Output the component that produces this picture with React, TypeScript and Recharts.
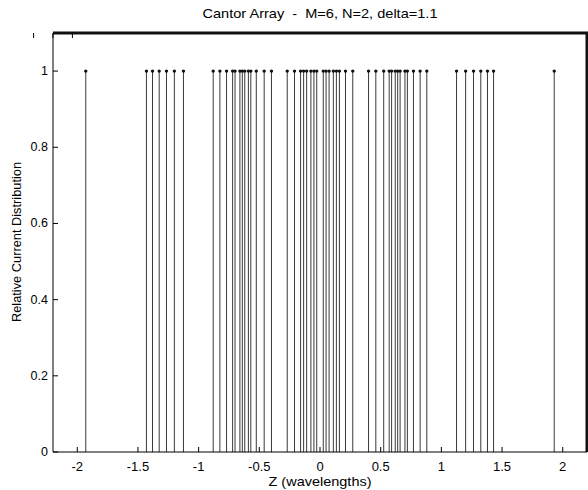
import React from 'react';
import { ComposedChart, Scatter, XAxis, YAxis, ReferenceLine, Line } from 'recharts';

// Element positions (wavelengths)
const elementPositions = [
  -1.93,
  -1.43, -1.38, -1.325, -1.265, -1.2, -1.125,
  -0.88, -0.825, -0.77, -0.72, -0.7, -0.66, -0.64, -0.62, -0.59, -0.57, -0.525, -0.46, -0.4,
  -0.27, -0.21, -0.16, -0.135, -0.11, -0.075, -0.05, -0.027,
  0.027, 0.05, 0.075, 0.11, 0.135, 0.16, 0.21, 0.27,
  0.4, 0.46, 0.525, 0.57, 0.59, 0.62, 0.64, 0.66, 0.7, 0.72, 0.77, 0.825, 0.88,
  1.125, 1.2, 1.265, 1.325, 1.38, 1.43,
  1.93,
];

// Relative current of each element
const relativeCurrents = [
  1,
  1, 1, 1, 1, 1, 1,
  1, 1, 1, 1, 1, 1, 1, 1, 1, 1, 1, 1, 1,
  1, 1, 1, 1, 1, 1, 1, 1,
  1, 1, 1, 1, 1, 1, 1, 1,
  1, 1, 1, 1, 1, 1, 1, 1, 1, 1, 1, 1, 1,
  1, 1, 1, 1, 1, 1,
  1,
];

const xTicks = [-2, -1.5, -1, -0.5, 0, 0.5, 1, 1.5, 2];
const yTicks = [0, 0.2, 0.4, 0.6, 0.8, 1];
const xDomain = [-2.2, 2.2];
const yDomain = [0, 1.1];

// top and right edges of the plot box (axis limits)
const frameZ = [-2.2, 2.2, 2.2];
const frameY = [1.1, 1.1, 0];

const data = elementPositions.map((z, i) => ({ z, current: relativeCurrents[i] }));
const frameData = frameZ.map((z, i) => ({ z, edge: frameY[i] }));

const FONT = 'Liberation Sans, Arial, Helvetica, sans-serif';

const BottomTick = (props: any) => {
  const { x, y, payload } = props;
  return (
    <g>
      <line x1={x} x2={x} y1={y} y2={y - 5} stroke="#000" strokeWidth={1} />
      <text x={x} y={y + 19} textAnchor="middle" fontSize={13} fontFamily={FONT} fill="#000">
        {String(payload.value)}
      </text>
    </g>
  );
};

const TopTick = (props: any) => {
  const { x, y } = props;
  return <line x1={x} x2={x} y1={y} y2={y + 5} stroke="#000" strokeWidth={1} />;
};

const LeftTick = (props: any) => {
  const { x, y, payload } = props;
  return (
    <g>
      <line x1={x} x2={x + 5} y1={y} y2={y} stroke="#000" strokeWidth={1} />
      <text x={x - 5} y={y + 4} textAnchor="end" fontSize={12.5} fontFamily={FONT} fill="#000">
        {String(payload.value)}
      </text>
    </g>
  );
};

const RightTick = (props: any) => {
  const { x, y } = props;
  return <line x1={x} x2={x - 5} y1={y} y2={y} stroke="#000" strokeWidth={1} />;
};

const StemDot = (props: any) => {
  const { cx, cy } = props;
  return <circle cx={cx} cy={cy} r={1.7} fill="#111" />;
};

export default function App() {
  return (
    <div style={{ position: 'absolute', left: 0, top: 0, width: 588, height: 490, overflow: 'hidden', background: '#fff' }}>
      <ComposedChart
        width={588}
        height={490}
        data={data}
        margin={{ top: 32, right: 0, bottom: 0, left: 0 }}
      >
        <XAxis
          dataKey="z"
          type="number"
          domain={xDomain}
          ticks={xTicks}
          height={38}
          tickSize={0}
          tickMargin={0}
          tickLine={false}
          tick={<BottomTick />}
          axisLine={{ stroke: '#000', strokeWidth: 1 }}
        />
        <XAxis
          xAxisId="top"
          orientation="top"
          type="number"
          domain={xDomain}
          ticks={xTicks}
          height={1}
          tickSize={0}
          tickMargin={0}
          tickLine={false}
          tick={<TopTick />}
          axisLine={false}
        />
        <YAxis
          type="number"
          domain={yDomain}
          ticks={yTicks}
          width={53}
          tickSize={0}
          tickMargin={0}
          tickLine={false}
          tick={<LeftTick />}
          axisLine={{ stroke: '#000', strokeWidth: 1 }}
        />
        <YAxis
          yAxisId="right"
          orientation="right"
          type="number"
          domain={yDomain}
          ticks={yTicks}
          width={1}
          tickSize={0}
          tickMargin={0}
          tickLine={false}
          tick={<RightTick />}
          axisLine={false}
        />
        <Line
          data={frameData}
          dataKey="edge"
          type="linear"
          stroke="#111111"
          strokeWidth={3}
          dot={false}
          activeDot={false}
          isAnimationActive={false}
        />
        {data.map((d, i) => (
          <ReferenceLine
            key={i}
            segment={[{ x: d.z, y: 0 }, { x: d.z, y: d.current }]}
            stroke="#3a3a3a"
            strokeWidth={1}
            ifOverflow="visible"
          />
        ))}
        <Scatter dataKey="current" isAnimationActive={false} shape={<StemDot />} />
        <text
          x={320}
          y={18}
          textAnchor="middle"
          fontSize={13}
          fontFamily={FONT}
          fill="#000"
          textLength={235}
          lengthAdjust="spacingAndGlyphs"
        >
          {'Cantor Array\u00a0\u00a0-\u00a0\u00a0M=6, N=2, delta=1.1'}
        </text>
        <text
          x={320}
          y={486}
          textAnchor="middle"
          fontSize={13}
          fontFamily={FONT}
          fill="#000"
          textLength={103}
          lengthAdjust="spacingAndGlyphs"
        >
          Z (wavelengths)
        </text>
        <text
          x={21}
          y={242}
          transform="rotate(-90 21 242)"
          textAnchor="middle"
          fontSize={12.8}
          fontFamily={FONT}
          fill="#000"
        >
          Relative Current Distribution
        </text>
      </ComposedChart>
    </div>
  );
}
